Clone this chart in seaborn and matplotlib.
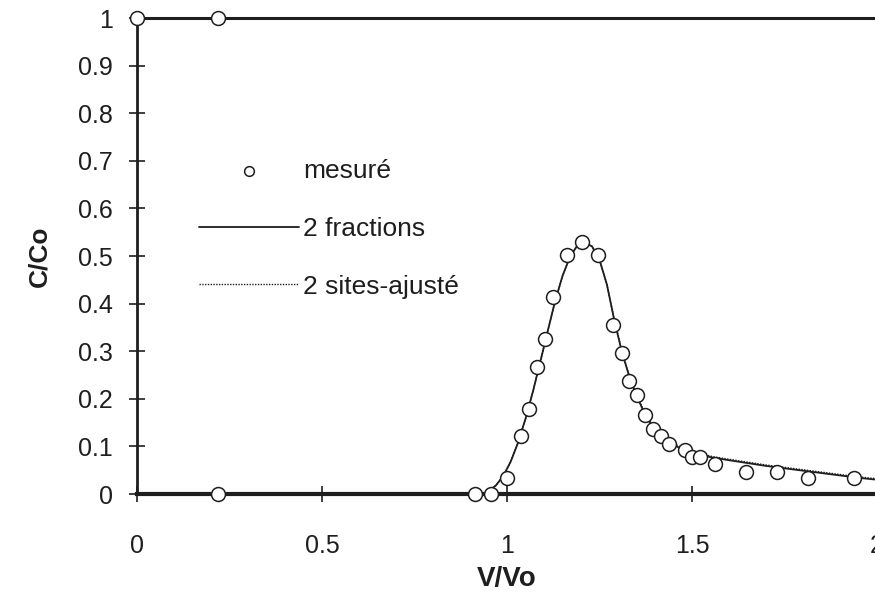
import numpy as np
import pandas as pd
import matplotlib
matplotlib.use("Agg")
import matplotlib.pyplot as plt
import seaborn as sns

# measured points
meas_x = [0.0, 0.219, 0.219, 0.914, 0.956, 0.999, 1.038, 1.06, 1.082, 1.102, 1.123,
          1.161, 1.203, 1.247, 1.287, 1.311, 1.331, 1.35, 1.373, 1.394, 1.416,
          1.438, 1.481, 1.499, 1.522, 1.562, 1.646, 1.731, 1.813, 1.937]
meas_y = [1.0, 1.0, 0.0, 0.0, 0.0, 0.034, 0.122, 0.179, 0.267, 0.326, 0.413,
          0.502, 0.530, 0.502, 0.354, 0.296, 0.237, 0.208, 0.166, 0.137, 0.122,
          0.106, 0.092, 0.077, 0.077, 0.062, 0.047, 0.047, 0.033, 0.033]

# model curves
frac_x = [0.935, 0.95, 0.97, 0.99, 1.01, 1.03, 1.05, 1.07, 1.09, 1.11, 1.13, 1.15,
          1.17, 1.19, 1.21, 1.23, 1.25, 1.27, 1.29, 1.31, 1.33, 1.35, 1.37, 1.39,
          1.42, 1.45, 1.48, 1.52, 1.56, 1.6, 1.65, 1.7, 1.75, 1.8, 1.85, 1.9, 1.95, 2.0]
frac_y = [0.0, 0.006, 0.018, 0.038, 0.068, 0.108, 0.158, 0.215, 0.278, 0.342, 0.405,
          0.458, 0.498, 0.522, 0.529, 0.52, 0.492, 0.44, 0.365, 0.3, 0.248, 0.207,
          0.172, 0.145, 0.12, 0.103, 0.092, 0.082, 0.076, 0.071, 0.065, 0.059, 0.054,
          0.049, 0.044, 0.039, 0.034, 0.030]
site_x = [0.935, 0.95, 0.97, 0.99, 1.01, 1.03, 1.05, 1.07, 1.09, 1.11, 1.13, 1.15,
          1.17, 1.19, 1.21, 1.23, 1.25, 1.27, 1.29, 1.31, 1.33, 1.35, 1.37, 1.39,
          1.42, 1.45, 1.48, 1.52, 1.56, 1.6, 1.65, 1.7, 1.75, 1.8, 1.85, 1.9, 1.95, 2.0]
site_y = [0.0, 0.006, 0.018, 0.038, 0.068, 0.108, 0.158, 0.215, 0.278, 0.342, 0.405,
          0.458, 0.498, 0.522, 0.529, 0.52, 0.492, 0.44, 0.366, 0.302, 0.25, 0.209,
          0.175, 0.148, 0.123, 0.106, 0.095, 0.085, 0.078, 0.073, 0.067, 0.061, 0.056,
          0.051, 0.046, 0.041, 0.036, 0.032]

x_ticks = [0, 0.5, 1, 1.5, 2]
x_tick_labels = ["0", "0.5", "1", "1.5", "2"]
y_ticks = [0, 0.1, 0.2, 0.3, 0.4, 0.5, 0.6, 0.7, 0.8, 0.9, 1]
y_tick_labels = ["0", "0.1", "0.2", "0.3", "0.4", "0.5", "0.6", "0.7", "0.8", "0.9", "1"]

sns.set_style("white")
plt.rcParams['font.family'] = ['Liberation Sans', 'DejaVu Sans']

fig = plt.figure(figsize=(8.75, 5.94), dpi=100)
ax = fig.add_axes([137 / 875, 100 / 594, 740 / 875, 476 / 594])

col = "#1e1e1e"
sns.lineplot(x=frac_x, y=frac_y, ax=ax, color=col, lw=1.3, label="2 fractions",
             estimator=None, sort=False)
sns.lineplot(x=site_x, y=site_y, ax=ax, color=col, lw=1.0, ls=(0, (1, 1)),
             label="2 sites-ajusté", estimator=None, sort=False)
sns.scatterplot(x=meas_x, y=meas_y, ax=ax, marker="o", s=100, facecolor="white",
                edgecolor=col, linewidth=1.1, label="mesuré", clip_on=False, zorder=5)

ax.set_xlim(0, 2)
ax.set_ylim(0, 1)
ax.set_xticks(x_ticks)
ax.set_xticklabels(x_tick_labels)
ax.set_yticks(y_ticks)
ax.set_yticklabels(y_tick_labels)
ax.tick_params(axis="both", which="major", bottom=True, left=True,
               direction="inout", length=11, width=1.2, colors=col,
               labelsize=18, labelcolor=col)
ax.tick_params(axis="x", pad=23)
ax.tick_params(axis="y", pad=12)
ax.set_xlabel("V/Vo", fontsize=20, fontweight="bold", color=col)
ax.set_ylabel("C/Co", fontsize=19, fontweight="bold", color=col)
ax.xaxis.set_label_coords((507 - 137) / 740, (494 - 566) / 476)
ax.xaxis.label.set_va("top")
ax.yaxis.set_label_coords((51 - 137) / 740, 0.5)

for side in ["left", "top", "bottom"]:
    ax.spines[side].set_visible(True)
    ax.spines[side].set_color(col)
ax.spines["bottom"].set_linewidth(3.0)
ax.spines["top"].set_linewidth(2.2)
ax.spines["left"].set_linewidth(2.0)
ax.spines["right"].set_visible(False)

handles, labels = ax.get_legend_handles_labels()
order = [labels.index("mesuré"), labels.index("2 fractions"), labels.index("2 sites-ajusté")]
leg = ax.legend([handles[i] for i in order], [labels[i] for i in order],
                loc="upper left", bbox_to_anchor=((199 - 137) / 740, (494 - 159) / 476),
                frameon=False, borderaxespad=0, borderpad=0,
                fontsize=19, handlelength=3.8, handletextpad=0.15, labelspacing=1.28,
                markerscale=0.7)
for t in leg.get_texts():
    t.set_color(col)

fig.savefig("out.png", dpi=100)
